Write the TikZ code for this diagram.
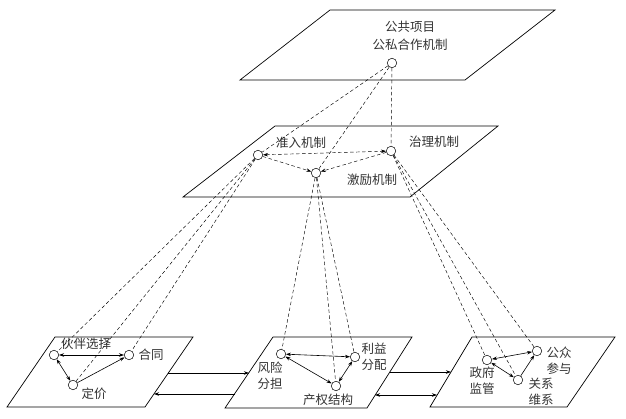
\documentclass[tikz,border=0pt]{standalone}
\usepackage{fontspec}
\newfontfamily\cjk{Noto Sans CJK SC}
\usetikzlibrary{arrows.meta}
\begin{document}
\begin{tikzpicture}[x=1pt,y=-1pt,
  plane/.style={draw=black,line width=0.7pt},
  dot/.style={circle,draw=black,fill=white,inner sep=0pt,minimum size=9.5pt,line width=0.5pt},
  lbl/.style={font=\cjk\fontsize{12.5}{16}\selectfont,text=black!80,align=center,inner sep=0pt},
  dsh/.style={draw=black,line width=0.45pt,dash pattern=on 3.5pt off 2.5pt},
  dar/.style={dsh,{Stealth[length=5pt,width=3.5pt]}-{Stealth[length=5pt,width=3.5pt]}},
  sar/.style={draw=black,line width=0.6pt},
  tip/.style={-{Stealth[length=5pt,width=3.5pt]}},
  tips/.style={{Stealth[length=5pt,width=3.5pt]}-{Stealth[length=5pt,width=3.5pt]}}]
\useasboundingbox (0,0) rectangle (626,419);
% planes
\draw[plane] (330,10) -- (555,10) -- (465,80) -- (240,80) -- cycle;
\draw[plane] (275,126) -- (498,126) -- (410,197) -- (183,197) -- cycle;
\draw[plane] (55,337) -- (193,337) -- (145,407) -- (7,407) -- cycle;
\draw[plane] (273,337) -- (412,337) -- (367,408) -- (225,408) -- cycle;
\draw[plane] (472,337) -- (615,337) -- (567,407) -- (430,407) -- cycle;
% labels
\node[lbl] (t1) at (410,27) {公共项目};
\node[lbl] (t2) at (410,45) {公私合作机制};
\node[lbl] (m1) at (301,143) {准入机制};
\node[lbl] (m2) at (434,142) {治理机制};
\node[lbl] (m3) at (372,180) {激励机制};
\node[lbl] (b1) at (86,344) {伙伴选择};
\node[lbl] (b2) at (151,355) {合同};
\node[lbl] (b3) at (94,394) {定价};
\node[lbl] (b4) at (270,376) {风险\\分担};
\node[lbl] (b5) at (374,357) {利益\\分配};
\node[lbl] (b6) at (328,400) {产权结构};
\node[lbl] (b7) at (482,381) {政府\\监管};
\node[lbl] (b8) at (559,361) {公众\\参与};
\node[lbl] (b9) at (541,392) {关系\\维系};
% circles
\node[dot] (T) at (392,63) {};
\node[dot] (ZR) at (258,155) {};
\node[dot] (ZL) at (391,151) {};
\node[dot] (JL) at (316,173) {};
\node[dot] (HB) at (54,355) {};
\node[dot] (HT) at (129,355) {};
\node[dot] (DJ) at (73,385) {};
\node[dot] (FX) at (281,354) {};
\node[dot] (LY) at (355,357) {};
\node[dot] (CQ) at (336,386) {};
\node[dot] (ZF) at (487,360) {};
\node[dot] (GZ) at (537,351) {};
\node[dot] (GX) at (518,380) {};
% dashed links between levels
\draw[dsh] (T) -- (ZR);
\draw[dsh] (T) -- (JL);
\draw[dsh] (T) -- (ZL);
\draw[dsh] (ZR) -- (HB);
\draw[dsh] (ZR) -- (DJ);
\draw[dsh] (ZR) -- (HT);
\draw[dsh] (JL) -- (FX);
\draw[dsh] (JL) -- (CQ);
\draw[dsh] (JL) -- (LY);
\draw[dsh] (ZL) -- (ZF);
\draw[dsh] (ZL) -- (GX);
\draw[dsh] (ZL) -- (GZ);
% middle plane arrows
\draw[dar] (ZR) -- (ZL);
\draw[dsh,tip] (ZR) -- (JL);
\draw[dsh,tip] (ZL) -- (JL);
% bottom plane arrows
\draw[sar,tips] (HB) -- (HT);
\draw[sar,tips] (HB) -- (DJ);
\draw[sar,tip] (DJ) -- (HT);
\draw[sar,tips] (FX) -- (LY);
\draw[sar,tips] (FX) -- (CQ);
\draw[sar,tips] (LY) -- (CQ);
\draw[sar,tips] (ZF) -- (GZ);
\draw[sar,tips] (ZF) -- (GX);
\draw[sar,tip] (GX) -- (GZ);
% horizontal links between bottom planes
\coordinate (L1a) at (168,373);
\coordinate (M1a) at (249,373);
\coordinate (M1b) at (235,394);
\coordinate (L1b) at (154,394);
\coordinate (M2a) at (390,372);
\coordinate (R2a) at (451,372);
\coordinate (M2b) at (375,395);
\coordinate (R2b) at (437,395);
\draw[sar,tip] (L1a) -- (M1a);
\draw[sar,tip] (M1b) -- (L1b);
\draw[sar,tip] (M2a) -- (R2a);
\draw[sar,tips] (M2b) -- (R2b);
\end{tikzpicture}
\end{document}
